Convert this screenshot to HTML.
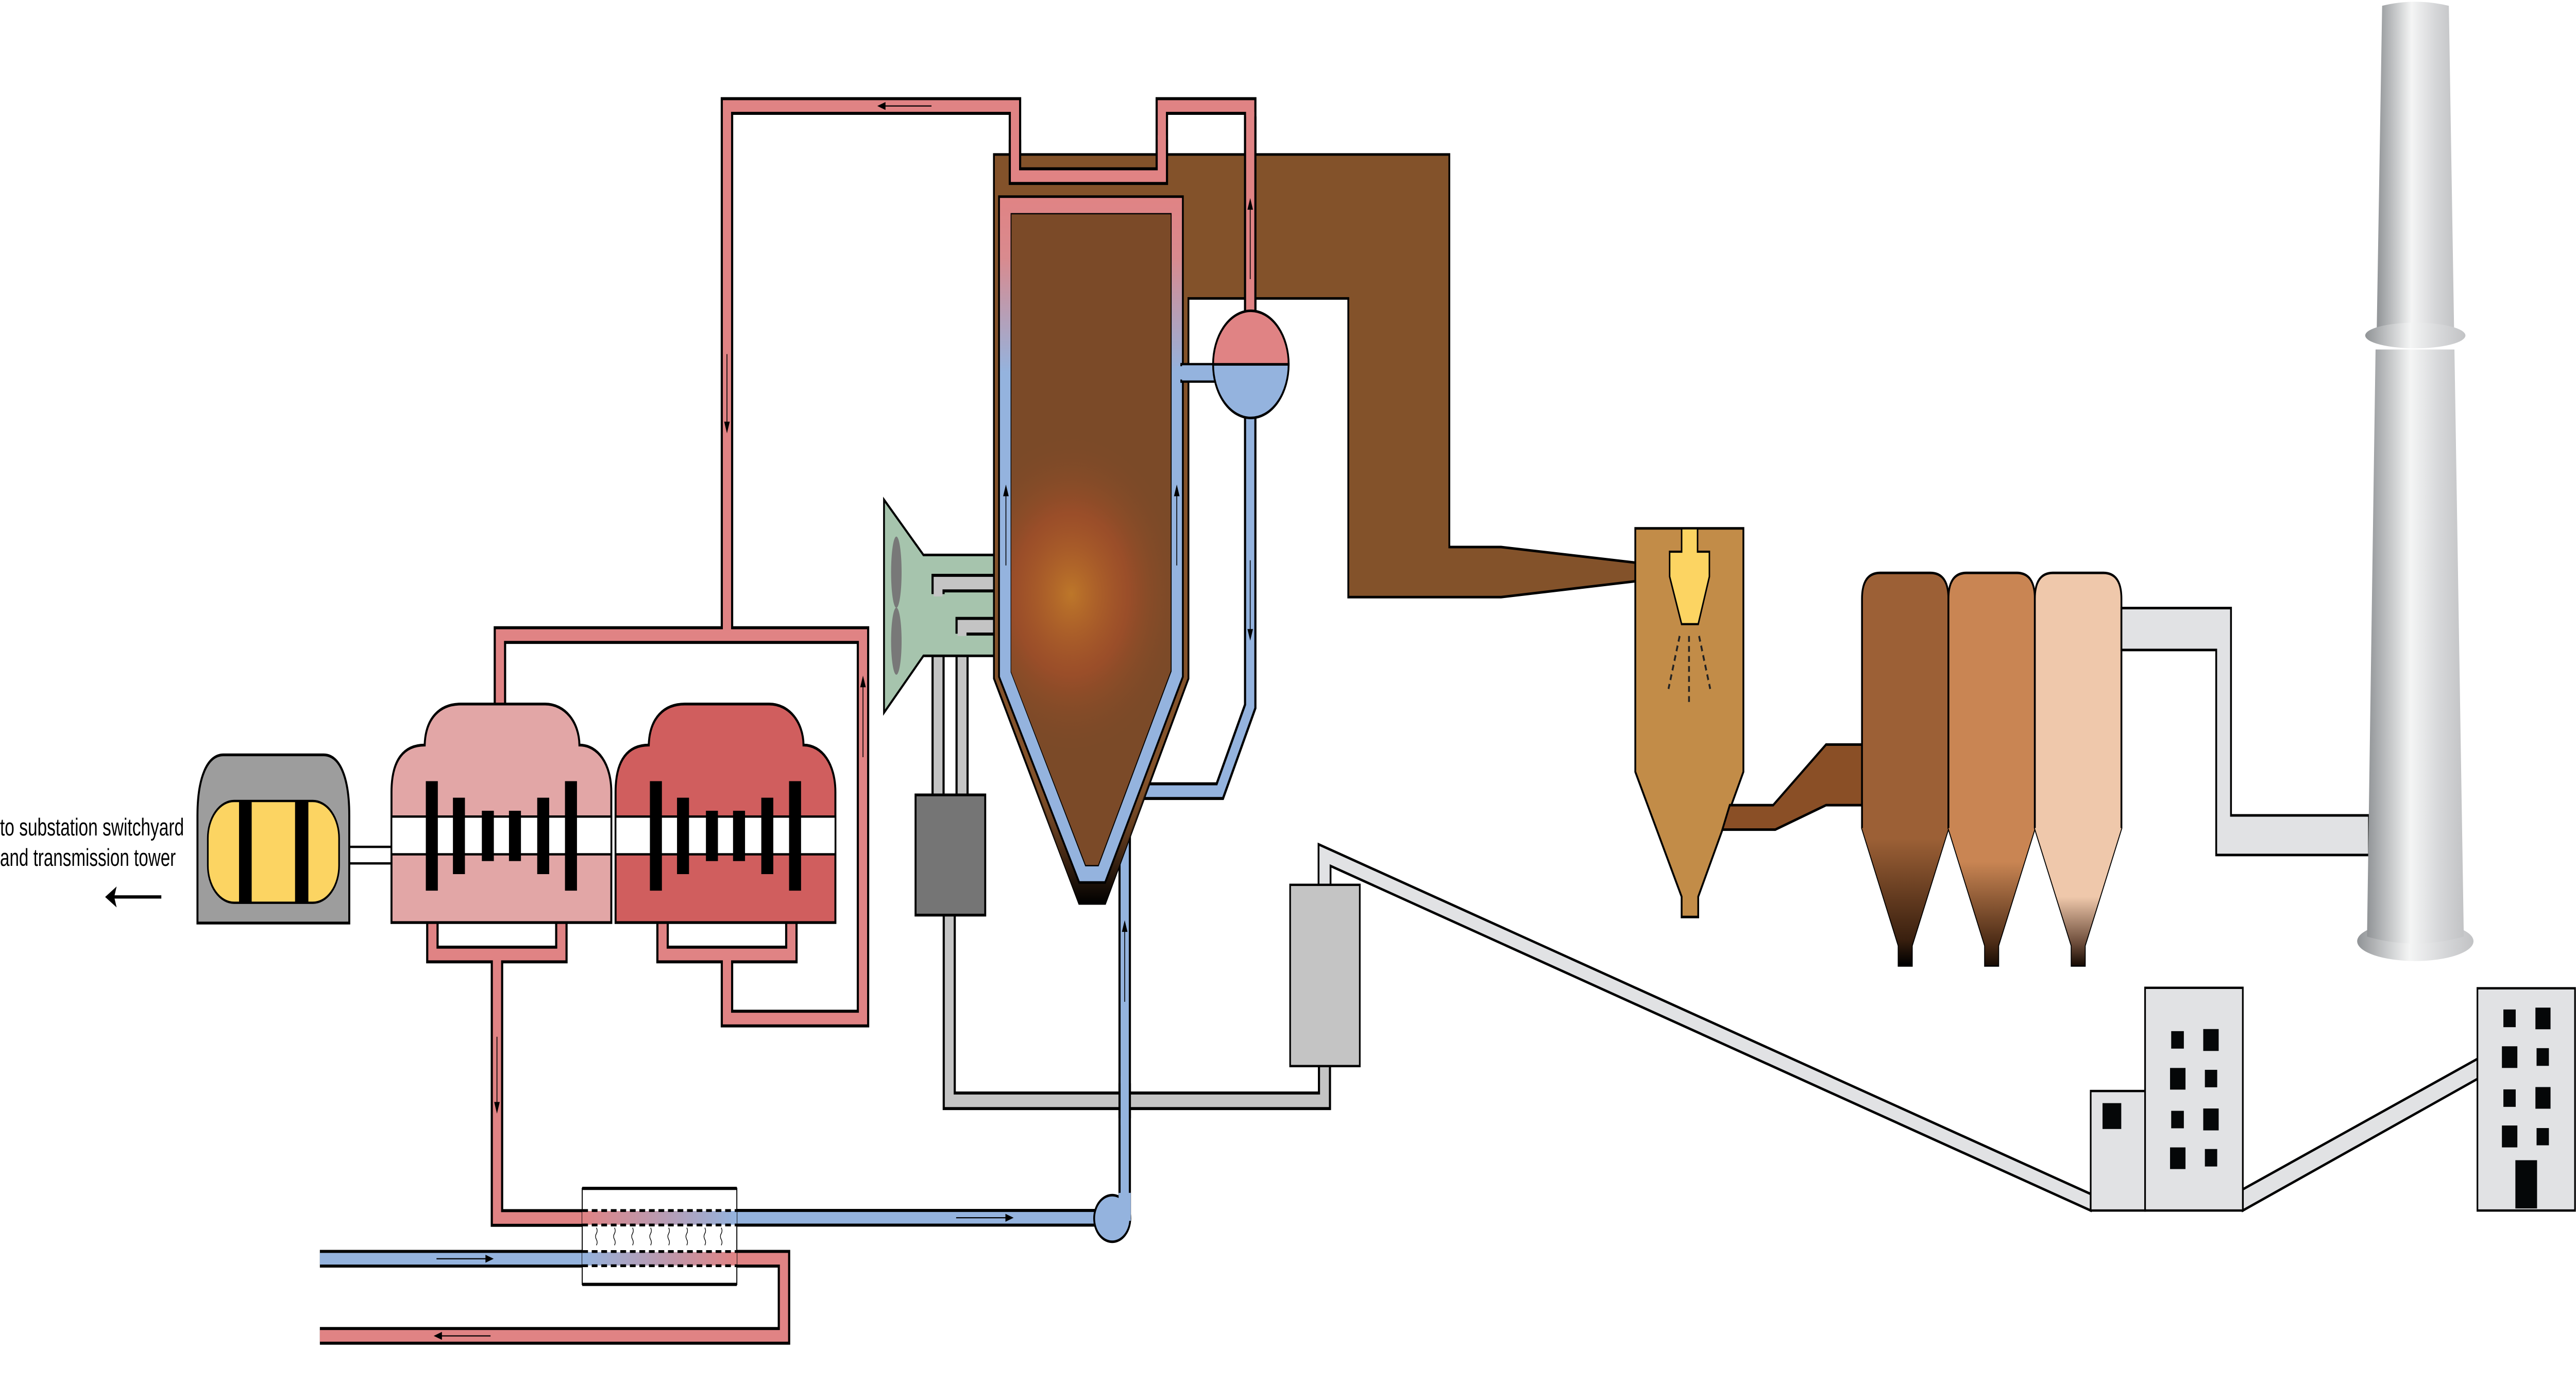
<!DOCTYPE html>
<html><head><meta charset="utf-8"><style>html,body{margin:0;padding:0;background:#fff;width:100%;height:100%;overflow:hidden}svg{display:block;width:100vw;height:100vh;position:absolute;left:0;top:0}</style></head>
<body>
<svg xmlns="http://www.w3.org/2000/svg" viewBox="0 0 1568 593.2" preserveAspectRatio="none">
<defs>
<linearGradient id="ww" x1="0" y1="84" x2="0" y2="160" gradientUnits="userSpaceOnUse"><stop offset="0" stop-color="#e08384"/><stop offset="0.35" stop-color="#d98a8e"/><stop offset="1" stop-color="#94b3de"/></linearGradient>
<linearGradient id="brbot" x1="0" y1="330" x2="0" y2="388" gradientUnits="userSpaceOnUse"><stop offset="0" stop-color="#83512a" stop-opacity="0"/><stop offset="0.6" stop-color="#4a2c16"/><stop offset="1" stop-color="#000"/></linearGradient>
<radialGradient id="fire" cx="652" cy="255" r="70" gradientUnits="userSpaceOnUse"><stop offset="0" stop-color="#d98a2a" stop-opacity="0.7"/><stop offset="0.5" stop-color="#c8532a" stop-opacity="0.4"/><stop offset="1" stop-color="#7b4a28" stop-opacity="0"/></radialGradient>
<linearGradient id="p1" x1="0" y1="360" x2="0" y2="414" gradientUnits="userSpaceOnUse"><stop offset="0" stop-color="#9c6036"/><stop offset="0.8" stop-color="#3a200f"/><stop offset="1" stop-color="#000"/></linearGradient>
<linearGradient id="p2" x1="0" y1="370" x2="0" y2="414" gradientUnits="userSpaceOnUse"><stop offset="0" stop-color="#c98553"/><stop offset="0.8" stop-color="#4a2a15"/><stop offset="1" stop-color="#1a0d05"/></linearGradient>
<linearGradient id="p3" x1="0" y1="385" x2="0" y2="414" gradientUnits="userSpaceOnUse"><stop offset="0" stop-color="#efc8ab"/><stop offset="0.7" stop-color="#6a4a38"/><stop offset="1" stop-color="#1a0d05"/></linearGradient>
<linearGradient id="stk" x1="0" y1="0" x2="1" y2="0"><stop offset="0" stop-color="#909396"/><stop offset="0.45" stop-color="#f4f5f5"/><stop offset="0.75" stop-color="#d6d7d9"/><stop offset="1" stop-color="#c2c3c5"/></linearGradient>
<linearGradient id="hx1" x1="354.4" y1="0" x2="448.5" y2="0" gradientUnits="userSpaceOnUse"><stop offset="0" stop-color="#e08384"/><stop offset="1" stop-color="#94b3de"/></linearGradient>
<linearGradient id="hx2" x1="354.4" y1="0" x2="448.5" y2="0" gradientUnits="userSpaceOnUse"><stop offset="0" stop-color="#94b3de"/><stop offset="1" stop-color="#e08384"/></linearGradient>
</defs>

<text x="0" y="358.6" font-family="Liberation Sans, sans-serif" font-size="10.5" textLength="112" lengthAdjust="spacingAndGlyphs">to substation switchyard</text>
<text x="0" y="371.7" font-family="Liberation Sans, sans-serif" font-size="10.5" textLength="107" lengthAdjust="spacingAndGlyphs">and transmission tower</text>
<line x1="98.2" y1="385" x2="68" y2="385" stroke="#000" stroke-width="1.4"/>
<polygon points="64,385 71,380.5 69.5,385 71,389.5" fill="#000"/>

<rect x="212.6" y="363.5" width="25.7" height="7.1" fill="#fff" stroke="#000" stroke-width="1"/>
<path d="M120.2,396.2 V350 C120.2,334 126,324 136,324 H197 C207,324 212.6,334 212.6,350 V396.2 Z" fill="#9d9d9d" stroke="#000" stroke-width="1.2"/>
<rect x="126.5" y="343.8" width="79.9" height="43.7" rx="16" ry="16" fill="#fcd462" stroke="#000" stroke-width="1"/>
<rect x="145.5" y="344" width="7.7" height="43.3" fill="#000"/>
<rect x="179.6" y="344" width="8.1" height="43.3" fill="#000"/>

<g fill="none" stroke-linejoin="miter">
<path d="M403.3,396 V409.7 H481.7 V396 M442.5,409.7 V437.2 H525.3 V272.6 H304.3 V302 M442.5,272.6 V45.5 H617.8 V75.6 H707.2 V45.5 H761 V134 M263.2,396 V409.7 H341.7 V396 M302.5,409.7 V522.8 H356 M448.5,540.3 H477.2 V573.4 H194.7" stroke="#000" stroke-width="7.6"/>
<path d="M403.3,396 V409.7 H481.7 V396 M442.5,409.7 V437.2 H525.3 V272.6 H304.3 V302 M442.5,272.6 V45.5 H617.8 V75.6 H707.2 V45.5 H761 V134 M263.2,396 V409.7 H341.7 V396 M302.5,409.7 V522.8 H356 M448.5,540.3 H477.2 V573.4 H194.7" stroke="#e08384" stroke-width="5"/>
</g>

<g>
<path d="M238.3,396 V340 C238.3,326 246,319.8 258.5,319.8 C259,308 268,302.2 280.4,302.2 H331.8 C344,302.2 352.5,310 352.7,319.8 C364,319.8 372.1,328 372.1,340 V396 Z" fill="#e2a6a6" stroke="#000" stroke-width="1.2"/>
<rect x="238.3" y="350.5" width="133.8" height="16.2" fill="#fff" stroke="#000" stroke-width="1"/>
<rect x="259.2" y="335.3" width="7.3" height="47" fill="#000"/>
<rect x="343.9" y="335.3" width="7.3" height="47" fill="#000"/>
<rect x="275.7" y="342.4" width="7.3" height="32.8" fill="#000"/>
<rect x="327" y="342.4" width="7.3" height="32.8" fill="#000"/>
<rect x="293.3" y="348" width="7.3" height="21.6" fill="#000"/>
<rect x="309.8" y="348" width="7.3" height="21.6" fill="#000"/>
</g>
<g transform="translate(136.4,0)">
<path d="M238.3,396 V340 C238.3,326 246,319.8 258.5,319.8 C259,308 268,302.2 280.4,302.2 H331.8 C344,302.2 352.5,310 352.7,319.8 C364,319.8 372.1,328 372.1,340 V396 Z" fill="#d05e5e" stroke="#000" stroke-width="1.2"/>
<rect x="238.3" y="350.5" width="133.8" height="16.2" fill="#fff" stroke="#000" stroke-width="1"/>
<rect x="259.2" y="335.3" width="7.3" height="47" fill="#000"/>
<rect x="343.9" y="335.3" width="7.3" height="47" fill="#000"/>
<rect x="275.7" y="342.4" width="7.3" height="32.8" fill="#000"/>
<rect x="327" y="342.4" width="7.3" height="32.8" fill="#000"/>
<rect x="293.3" y="348" width="7.3" height="21.6" fill="#000"/>
<rect x="309.8" y="348" width="7.3" height="21.6" fill="#000"/>
</g>

<g fill="none">
<path d="M194.7,540.3 H356 M448.5,522.7 H677 M684.6,523 V342 M761,178 V303.2 L742.5,339.6 H690" stroke="#000" stroke-width="7.6"/>
<path d="M194.7,540.3 H356 M448.5,522.7 H677 M684.6,523 V342 M761,178 V303.2 L742.5,339.6 H690" stroke="#94b3de" stroke-width="5"/>
</g>
<ellipse cx="677" cy="523" rx="11" ry="10" fill="#94b3de" stroke="#000" stroke-width="1.1"/>
<rect x="677" y="519.7" width="7" height="6.1" fill="#94b3de"/>
<rect x="680.9" y="512" width="7.4" height="12" fill="#94b3de"/>

<rect x="354.4" y="510.1" width="94.1" height="41.2" fill="#fff" stroke="#000" stroke-width="0.6"/>
<line x1="354.4" y1="510.1" x2="448.5" y2="510.1" stroke="#000" stroke-width="1.4"/>
<line x1="354.4" y1="551.3" x2="448.5" y2="551.3" stroke="#000" stroke-width="1.4"/>
<rect x="354.4" y="519.8" width="94.1" height="5.9" fill="url(#hx1)"/>
<rect x="354.4" y="537.4" width="94.1" height="5.8" fill="url(#hx2)"/>
<g stroke="#000" stroke-width="1.2" stroke-dasharray="3.5,2.3">
<line x1="354.4" y1="519.6" x2="448.5" y2="519.6"/><line x1="354.4" y1="525.8" x2="448.5" y2="525.8"/>
<line x1="354.4" y1="537.2" x2="448.5" y2="537.2"/><line x1="354.4" y1="543.3" x2="448.5" y2="543.3"/>
</g>
<g fill="none" stroke="#000" stroke-width="0.4">
<path d="M363,527 q1,1.2 0,2.5 q-1,1.2 0,2.5 q1,1.2 0,2.5"/><path d="M374,527 q1,1.2 0,2.5 q-1,1.2 0,2.5 q1,1.2 0,2.5"/>
<path d="M385,527 q1,1.2 0,2.5 q-1,1.2 0,2.5 q1,1.2 0,2.5"/><path d="M396,527 q1,1.2 0,2.5 q-1,1.2 0,2.5 q1,1.2 0,2.5"/>
<path d="M407,527 q1,1.2 0,2.5 q-1,1.2 0,2.5 q1,1.2 0,2.5"/><path d="M418,527 q1,1.2 0,2.5 q-1,1.2 0,2.5 q1,1.2 0,2.5"/>
<path d="M429,527 q1,1.2 0,2.5 q-1,1.2 0,2.5 q1,1.2 0,2.5"/><path d="M439,527 q1,1.2 0,2.5 q-1,1.2 0,2.5 q1,1.2 0,2.5"/>
</g>

<g fill="none">
<path d="M571,342 V250.3 H606 M585.6,342 V268.8 H606 M577.8,392 V472.5 H806.2 V457" stroke="#000" stroke-width="8"/>
<path d="M571,342 V250.3 H606 M585.6,342 V268.8 H606 M577.8,392 V472.5 H806.2 V457" stroke="#c4c4c4" stroke-width="5.4"/>
</g>
<path d="M684.6,465 V480" stroke="#000" stroke-width="7.6"/><path d="M684.6,462 V483" stroke="#94b3de" stroke-width="5"/>
<rect x="557.3" y="341.2" width="42.4" height="51.6" fill="#757575" stroke="#000" stroke-width="1.2"/>
<polygon points="802.6,380 802.6,362.4 1272.6,512.5 1272.6,519.6 809.9,371.7 809.9,380" fill="#e1e2e4" stroke="#000" stroke-width="1.1"/>
<rect x="785.3" y="379.8" width="42.4" height="77.8" fill="#c4c4c4" stroke="#000" stroke-width="1"/>

<polygon points="538.1,214.5 562.1,238.2 606,238.2 606,281.5 562.1,281.5 538.1,305.9" fill="#a6c4ad" stroke="#000" stroke-width="1.1"/>
<ellipse cx="545.6" cy="245.6" rx="3.2" ry="15.3" fill="#787878"/>
<ellipse cx="545.6" cy="275.2" rx="3.2" ry="14.4" fill="#787878"/>
<g fill="none">
<path d="M571,255 V250.3 H606 M585.6,272 V268.8 H606" stroke="#000" stroke-width="8"/>
<path d="M571,256 V250.3 H607 M585.6,273 V268.8 H607" stroke="#c4c4c4" stroke-width="5.4"/>
</g>

<path d="M605,66.3 H882.2 V234.8 H913.7 L995.4,241.5 V249.5 L913.7,256.3 H820.7 V128.1 H723.4 V291.3 L672.7,387.8 H656.9 L605,291.2 Z" fill="#83522a" stroke="#000" stroke-width="1.1"/>
<polygon points="625.8,330 656.9,387.8 672.7,387.8 703.1,330" fill="url(#brbot)"/>
<path d="M608.1,84.4 H720 V290.5 L672.7,378.8 H656.9 L608.1,290.5 Z M615.7,92 V288.4 L660.9,371.3 H668.4 L712.6,288 V92 Z" fill="url(#ww)" fill-rule="evenodd" stroke="#000" stroke-width="1.1"/>
<path d="M615.7,92 H712.6 V288 L668.4,371.3 H660.9 L615.5,288.4 Z" fill="#7b4a28"/>
<path d="M615.7,92 H712.6 V288 L668.4,371.3 H660.9 L615.5,288.4 Z" fill="url(#fire)"/>
<g fill="none"><path d="M617.8,60 V75.6 H707.2 V60" stroke="#000" stroke-width="7.6"/><path d="M617.8,58 V75.6 H707.2 V58" stroke="#e08384" stroke-width="5"/>
<path d="M761,50 V134" stroke="#000" stroke-width="7.6"/><path d="M761,48 V136" stroke="#e08384" stroke-width="5"/></g>
<rect x="719" y="156.3" width="21" height="7.5" fill="#94b3de" stroke="#000" stroke-width="1"/>
<rect x="716" y="157.2" width="6" height="5.7" fill="#94b3de"/>
<path d="M738.4,156.4 A23,23 0 0 1 784.4,156.4 Z" fill="#e08384" stroke="#000" stroke-width="1.1"/>
<path d="M738.4,156.4 A23,23 0 0 0 784.4,156.4 Z" fill="#94b3de" stroke="#000" stroke-width="1.1"/>

<path d="M995.4,226.8 H1061.2 V331.3 L1033.7,384.9 V393.6 H1023.6 V384.9 L995.4,331.3 Z" fill="#c28c48" stroke="#000" stroke-width="1.1"/>
<path d="M1023.6,226.8 H1033.3 V236.8 H1040.5 V247.5 L1033.7,267.9 H1023.6 L1016.3,247.5 V236.8 H1023.6 Z" fill="#fcd462" stroke="#000" stroke-width="0.9"/>
<g stroke="#222" stroke-width="1.1" stroke-dasharray="2.5,1.8"><line x1="1022.4" y1="273" x2="1015.6" y2="295.7"/><line x1="1028.1" y1="273" x2="1028.1" y2="302.5"/><line x1="1034.2" y1="273" x2="1041" y2="295.7"/></g>
<polygon points="1052.9,345.6 1079.3,345.6 1111.5,319.6 1133.4,319.6 1133.4,345.6 1111.5,345.6 1080.6,356.1 1048.4,356.1" fill="#8a4f26" stroke="#000" stroke-width="1.1"/>

<path d="M1133.4,355.4 V257 Q1133.4,245.9 1144.4,245.9 H1175 Q1186,245.9 1186,257 V355.4 L1163.7,405.9 V414.4 H1155.7 V405.9 Z" fill="#9c6036" stroke="#000" stroke-width="1.1"/>
<path d="M1133.4,355.4 L1155.7,405.9 V414.4 H1163.7 V405.9 L1186,355.4 Z" fill="url(#p1)"/>
<path d="M1186,355.4 V257 Q1186,245.9 1197,245.9 H1227.6 Q1238.6,245.9 1238.6,257 V355.4 L1216.3,405.9 V414.4 H1208.3 V405.9 Z" fill="#c98553" stroke="#000" stroke-width="1.1"/>
<path d="M1186,355.4 L1208.3,405.9 V414.4 H1216.3 V405.9 L1238.6,355.4 Z" fill="url(#p2)"/>
<path d="M1238.6,355.4 V257 Q1238.6,245.9 1249.6,245.9 H1280.3 Q1291.3,245.9 1291.3,257 V355.4 L1269,405.9 V414.4 H1261 V405.9 Z" fill="#efc8ab" stroke="#000" stroke-width="1.1"/>
<path d="M1238.6,355.4 L1261,405.9 V414.4 H1269 V405.9 L1291.3,355.4 Z" fill="url(#p3)"/>
<polygon points="1291.3,261 1358,261 1358,350 1442,350 1442,367 1349,367 1349,279 1291.3,279" fill="#e1e2e4" stroke="#000" stroke-width="1.1"/>

<ellipse cx="1470.2" cy="404" rx="35.4" ry="8.5" fill="url(#stk)"/>
<path d="M1446,150 L1440.8,402 Q1470,408 1499.7,402 L1494,150 Z" fill="url(#stk)"/>
<path d="M1450,2.5 Q1470,-1 1490.6,2.5 L1493.8,142 H1446.7 Z" fill="url(#stk)"/>
<ellipse cx="1470.2" cy="144" rx="30.5" ry="5.5" fill="url(#stk)"/>

<polygon points="1365.2,510.5 1508,454.5 1508,463.1 1365.2,519.6" fill="#e1e2e4" stroke="#000" stroke-width="1.1"/>
<rect x="1272.6" y="468.3" width="33.1" height="51.3" fill="#e1e2e4" stroke="#000" stroke-width="1"/>
<rect x="1279.8" y="473.5" width="11.4" height="11.1" fill="#050708"/>
<rect x="1305.7" y="424" width="59.5" height="95.6" fill="#e1e2e4" stroke="#000" stroke-width="1"/>
<g fill="#050708">
<rect x="1321.6" y="442.6" width="7.7" height="7.5"/><rect x="1341.1" y="441.7" width="9.4" height="9.4"/>
<rect x="1320.9" y="458.4" width="9.4" height="9.3"/><rect x="1342.1" y="459.2" width="7.5" height="7.5"/>
<rect x="1321.6" y="476.8" width="7.7" height="7.5"/><rect x="1341.1" y="475.8" width="9.4" height="9.4"/>
<rect x="1320.9" y="492.5" width="9.4" height="9.3"/><rect x="1342.1" y="493.2" width="7.5" height="7.5"/>
</g>
<rect x="1508" y="424.2" width="59.4" height="95.4" fill="#e1e2e4" stroke="#000" stroke-width="1"/>
<g fill="#050708">
<rect x="1523.8" y="433.3" width="7.5" height="7.6"/><rect x="1543.3" y="432.5" width="9.2" height="9.3"/>
<rect x="1522.9" y="449.1" width="9.4" height="9.3"/><rect x="1544" y="449.9" width="7.5" height="7.6"/>
<rect x="1523.8" y="467.6" width="7.5" height="7.5"/><rect x="1543.3" y="466.6" width="9.2" height="9.3"/>
<rect x="1522.9" y="483.1" width="9.4" height="9.4"/><rect x="1544" y="484.2" width="7.5" height="7.4"/>
<rect x="1531.1" y="498" width="13.2" height="20.7"/>
</g>

<g stroke="#000" stroke-width="0.5" fill="none">
<line x1="567" y1="45.5" x2="536" y2="45.5"/><line x1="442.5" y1="152" x2="442.5" y2="184"/>
<line x1="525.3" y1="325" x2="525.3" y2="292"/><line x1="302.5" y1="445" x2="302.5" y2="476"/>
<line x1="582" y1="522.7" x2="615" y2="522.7"/><line x1="265.7" y1="540.3" x2="298.5" y2="540.3"/>
<line x1="298.6" y1="573.4" x2="266" y2="573.4"/><line x1="684.6" y1="430" x2="684.6" y2="397"/>
<line x1="612.3" y1="242.7" x2="612.3" y2="210"/><line x1="716.3" y1="242.7" x2="716.3" y2="210"/>
<line x1="761" y1="240.5" x2="761" y2="273"/><line x1="761" y1="119.8" x2="761" y2="87"/>
</g>
<g fill="#000">
<polygon points="534,45.5 539,43.8 539,47.2"/><polygon points="442.5,186 440.8,181 444.2,181"/>
<polygon points="525.3,290 523.6,295 527,295"/><polygon points="302.5,478 300.8,473 304.2,473"/>
<polygon points="617,522.7 612,521 612,524.4"/><polygon points="300.5,540.3 295.5,538.6 295.5,542"/>
<polygon points="264,573.4 269,571.7 269,575.1"/><polygon points="684.6,395 682.9,400 686.3,400"/>
<polygon points="612.3,208 610.6,213 614,213"/><polygon points="716.3,208 714.6,213 718,213"/>
<polygon points="761,275 759.3,270 762.7,270"/><polygon points="761,85 759.3,90 762.7,90"/>
</g>
</svg>
</body></html>
